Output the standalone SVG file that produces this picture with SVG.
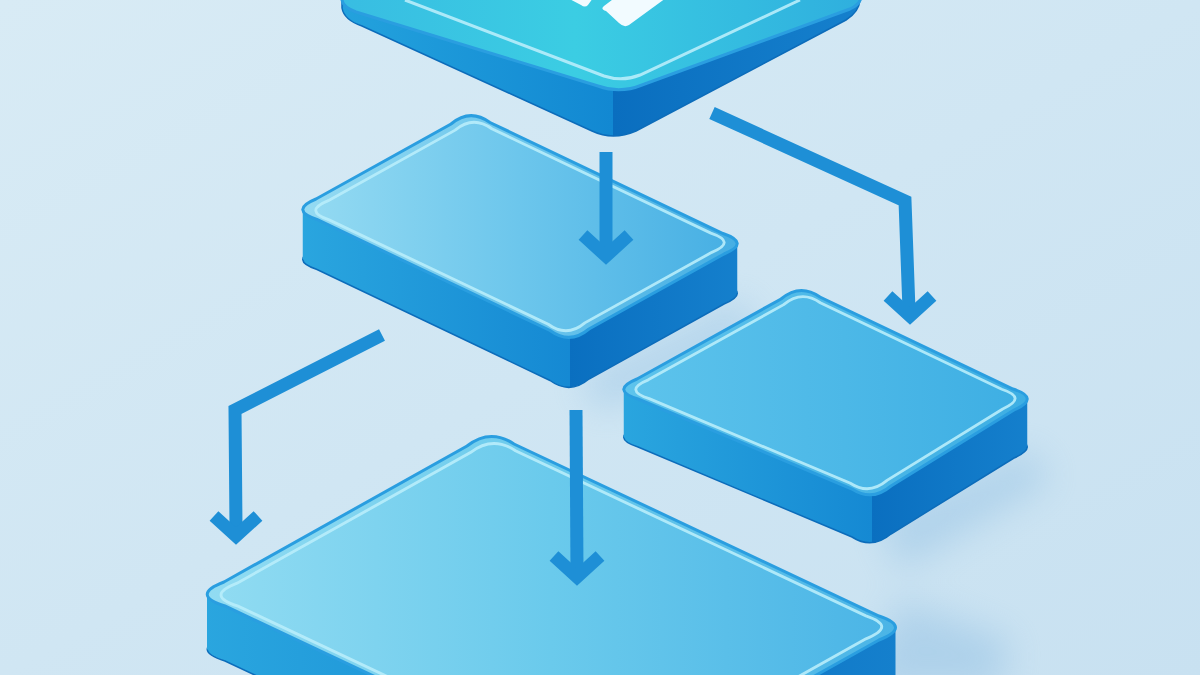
<svg xmlns="http://www.w3.org/2000/svg" xmlns:xlink="http://www.w3.org/1999/xlink" width="1200" height="675" viewBox="0 0 1200 675">
<defs>
<linearGradient id="bg" x1="0" y1="0" x2="1" y2="1"><stop offset="0" stop-color="#D8EBF5"/><stop offset="1" stop-color="#C8E1F1"/></linearGradient>
<linearGradient id="t1" gradientUnits="userSpaceOnUse" x1="342" y1="0" x2="860" y2="0"><stop offset="0" stop-color="#38BDE2"/><stop offset="0.45" stop-color="#3BCDE3"/><stop offset="1" stop-color="#2FAFDE"/></linearGradient>
<linearGradient id="t2" gradientUnits="userSpaceOnUse" x1="297" y1="0" x2="743" y2="0"><stop offset="0" stop-color="#96DBF2"/><stop offset="0.5" stop-color="#6CC6EC"/><stop offset="1" stop-color="#45AEE3"/></linearGradient>
<linearGradient id="t3" gradientUnits="userSpaceOnUse" x1="618" y1="0" x2="1033" y2="0"><stop offset="0" stop-color="#5EC4EC"/><stop offset="1" stop-color="#3DAEE3"/></linearGradient>
<linearGradient id="t4" gradientUnits="userSpaceOnUse" x1="201" y1="0" x2="902" y2="0"><stop offset="0" stop-color="#92DCF2"/><stop offset="0.5" stop-color="#6ACAEC"/><stop offset="1" stop-color="#4AB4E6"/></linearGradient>
<linearGradient id="s1" gradientUnits="userSpaceOnUse" x1="342" y1="0" x2="860" y2="0"><stop offset="0" stop-color="#23A2DD"/><stop offset="0.523" stop-color="#1288D2"/><stop offset="0.523" stop-color="#0A6EBF"/><stop offset="1" stop-color="#1580CD"/></linearGradient>
<linearGradient id="s2" gradientUnits="userSpaceOnUse" x1="297" y1="0" x2="743" y2="0"><stop offset="0" stop-color="#2AA6DF"/><stop offset="0.611" stop-color="#1589D3"/><stop offset="0.611" stop-color="#0A6FC0"/><stop offset="1" stop-color="#1580CD"/></linearGradient>
<linearGradient id="s3" gradientUnits="userSpaceOnUse" x1="618" y1="0" x2="1033" y2="0"><stop offset="0" stop-color="#2AA6DF"/><stop offset="0.612" stop-color="#1589D3"/><stop offset="0.612" stop-color="#0A6FC0"/><stop offset="1" stop-color="#1580CD"/></linearGradient>
<linearGradient id="s4" gradientUnits="userSpaceOnUse" x1="201" y1="0" x2="902" y2="0"><stop offset="0" stop-color="#2AA6DF"/><stop offset="0.588" stop-color="#1589D3"/><stop offset="0.588" stop-color="#0A6FC0"/><stop offset="1" stop-color="#1580CD"/></linearGradient>
<filter id="blur" x="-50%" y="-50%" width="200%" height="200%"><feGaussianBlur stdDeviation="18"/></filter>
<path id="f2" d="M451,124 Q470,108 490,122.5 L723,233.5 Q751,243 724,254 L589,329 Q570,345 550,330.5 L317,219.5 Q289,210 316,199 Z"/>
<path id="f3" d="M781,299 Q800,283 820,297 L1013,389 Q1041,398 1014,410 L891,486 Q872,502 852,489 L638,399 Q610,390 637,379 Z"/>
<path id="f4" d="M467,446 Q490,428 514,444 L879,616 Q912,627 879,640 L636,776 Q613,789 590,778 L225,606 Q190,595 224,582 Z"/>
<style>
.edge{stroke:#2A9EE0;stroke-width:3}
.hl{fill:none;stroke:#B8EDFB;stroke-width:3;opacity:0.9}
.base{stroke:#0C6CBA;stroke-width:1.5}
.con{fill:none;stroke:#1E8FD6;stroke-width:13;stroke-linejoin:miter;stroke-miterlimit:10}
.mark{fill:#F2FBFF}
</style>
</defs>
<rect width="1200" height="675" fill="url(#bg)"/>
<g id="shadows" filter="url(#blur)" fill="#8DBDE2" opacity="0.45">
<polygon points="900,600 1010,640 1000,690 860,690"/>
<polygon points="880,520 1030,450 1050,480 900,570"/>
<polygon points="580,380 740,300 760,330 600,410"/>
</g>
<g id="node1">
<path d="M342,-5 L342,8 Q344,20 362,26 L592,131 Q613,141 636,131 L846,20 Q859,12 860,0 L860,-5 Z" fill="url(#s1)" class="base"/>
<path d="M338,-30 L342,0 Q343,7 356,12 L598,86 Q620,94 642,85 L850,9 Q861,4 861,-4 L861,-30 Z" fill="url(#t1)" class="edge"/>
<path d="M405,0 L604,76 Q622,82 640,75 L800,0" class="hl"/>
<path class="mark" d="M560,-6 L581,5 Q585,8 588,5 L593,-2 L572,-12 Z"/>
<path class="mark" d="M606,11 L619,23 Q624,28 629,25 L666,-2 L641,-22 L604,6 Q600,9 606,11 Z"/>
</g>
<g id="node2">
<use xlink:href="#f2" transform="translate(0,50)" fill="url(#s2)" class="base"/>
<polygon points="302.75,209.6 302.75,259.6 737.25,293.4 737.25,243.4" fill="url(#s2)"/>
<use xlink:href="#f2" fill="url(#t2)" class="edge"/>
<use xlink:href="#f2" transform="translate(520,226.5) scale(0.94) translate(-520,-226.5)" class="hl"/>
</g>
<g id="node3">
<use xlink:href="#f3" transform="translate(0,48)" fill="url(#s3)" class="base"/>
<polygon points="623.75,389.5 623.75,437.5 1027.25,446.75 1027.25,398.75" fill="url(#s3)"/>
<use xlink:href="#f3" fill="url(#t3)" class="edge"/>
<use xlink:href="#f3" transform="translate(825,393) scale(0.94) translate(-825,-393)" class="hl"/>
</g>
<g id="node4">
<use xlink:href="#f4" transform="translate(0,55)" fill="url(#s4)" class="base"/>
<polygon points="207,594.5 207,649.5 895.5,682.5 895.5,627.5" fill="url(#s4)"/>
<use xlink:href="#f4" fill="url(#t4)" class="edge"/>
<use xlink:href="#f4" transform="translate(551.5,611) scale(0.96) translate(-551.5,-611)" class="hl"/>
</g>
<g id="connectors">
<path class="con" d="M606,152 L606,252"/>
<path class="con" d="M583,235 L606,256 L629,235"/>
<path class="con" d="M712,113 L905,201 L909,310"/>
<path class="con" d="M888,296 L910,316 L932,296"/>
<path class="con" d="M382,335 L235,410 L236,528"/>
<path class="con" d="M214,516 L236,536 L258,516"/>
<path class="con" d="M576,410 L577,572"/>
<path class="con" d="M554,556 L577,577 L600,556"/>
</g>
</svg>
